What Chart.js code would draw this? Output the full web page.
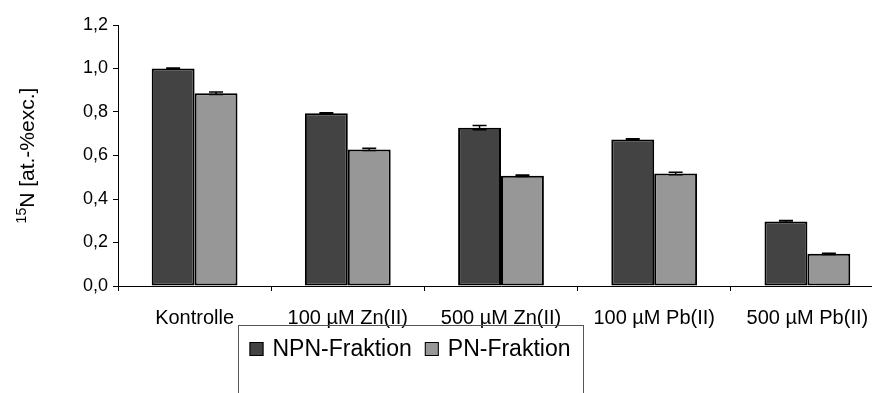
<!DOCTYPE html>
<html>
<head>
<meta charset="utf-8">
<script src="https://cdn.jsdelivr.net/npm/chart.js@4.4.0/dist/chart.umd.min.js"></script>
<style>
    html, body { margin: 0; padding: 0; background: #fff; overflow: hidden; }
    #wrap { width: 890px; height: 393px; }
</style>
</head>
<body>
<div id="wrap"><canvas id="barChart" width="890" height="393"></canvas></div>
<script>
const FONT = "'Liberation Sans', Arial, sans-serif";

// Data
const categories = ['Kontrolle', '100 µM Zn(II)', '500 µM Zn(II)', '100 µM Pb(II)', '500 µM Pb(II)'];
const npnValues = [1.0, 0.794, 0.728, 0.674, 0.297];
const npnErrors = [0.002, 0.003, 0.010, 0.003, 0.004];
const pnValues = [0.886, 0.628, 0.507, 0.517, 0.148];
const pnErrors = [0.006, 0.005, 0.003, 0.006, 0.003];
const yTicks = [0, 0.2, 0.4, 0.6, 0.8, 1.0, 1.2];

const ctx = document.getElementById('barChart');

/**
 * Error bars (value +/- error) with small caps
 */
const errorBars = {
    id: 'errorBars',
    afterDatasetsDraw(chart) {
        const { ctx, scales: { y } } = chart;
        const errs = [npnErrors, pnErrors];
        ctx.save();
        ctx.strokeStyle = '#000';
        ctx.lineWidth = 1.5;
        chart.data.datasets.forEach((ds, i) => {
            chart.getDatasetMeta(i).data.forEach((bar, j) => {
                const v = ds.data[j];
                const e = errs[i][j];
                const top = y.getPixelForValue(v + e);
                const bot = y.getPixelForValue(v - e);
                ctx.beginPath();
                ctx.moveTo(bar.x, top);
                ctx.lineTo(bar.x, bot);
                ctx.moveTo(bar.x - 7, top);
                ctx.lineTo(bar.x + 7, top);
                ctx.moveTo(bar.x - 7, bot);
                ctx.lineTo(bar.x + 7, bot);
                ctx.stroke();
            });
        });
        ctx.restore();
    }
};

/**
 * Rotated y-axis title with superscript mass number
 */
const yTitle = {
    id: 'yTitle',
    afterDraw(chart) {
        const { ctx, chartArea } = chart;
        const cy = (chartArea.top + chartArea.bottom) / 2;
        const sup = '15';
        const main = 'N [at.-%exc.]';
        ctx.save();
        ctx.translate(27, cy);
        ctx.rotate(-Math.PI / 2);
        ctx.fillStyle = '#000';
        ctx.textBaseline = 'alphabetic';
        ctx.font = `14px ${FONT}`;
        const supW = ctx.measureText(sup).width;
        ctx.font = `21px ${FONT}`;
        const mainW = ctx.measureText(main).width;
        let x = -(supW + mainW) / 2;
        ctx.font = `14px ${FONT}`;
        ctx.fillText(sup, x, -1);
        ctx.font = `21px ${FONT}`;
        ctx.fillText(main, x + supW, 7);
        ctx.restore();
    }
};

/**
 * Framed legend below the plot
 */
const boxLegend = {
    id: 'boxLegend',
    afterDraw(chart) {
        const { ctx } = chart;
        const size = 14, gap = 9, itemGap = 13, pad = 12;
        const centerX = 410, top = 325, textY = 349;
        ctx.save();
        ctx.font = `23px ${FONT}`;
        const items = chart.data.datasets.map(ds => ({
            label: ds.label,
            color: ds.backgroundColor,
            w: ctx.measureText(ds.label).width
        }));
        const total = items.reduce((acc, it) => acc + size + gap + it.w, 0) + itemGap * (items.length - 1);
        const left = centerX - total / 2 - pad;
        ctx.strokeStyle = '#555';
        ctx.lineWidth = 1;
        ctx.strokeRect(Math.round(left) + 0.5, top + 0.5, Math.round(total + pad * 2), 80);
        let x = left + pad;
        ctx.textBaseline = 'middle';
        items.forEach(it => {
            ctx.fillStyle = it.color;
            ctx.fillRect(x, textY - size / 2, size, size);
            ctx.strokeStyle = '#000';
            ctx.strokeRect(x + 0.5, textY - size / 2 + 0.5, size - 1, size - 1);
            x += size + gap;
            ctx.fillStyle = '#000';
            ctx.fillText(it.label, x, textY + 1);
            x += it.w + itemGap;
        });
        ctx.restore();
    }
};

new Chart(ctx, {
    type: 'bar',
    data: {
        labels: categories,
        datasets: [{
            label: 'NPN-Fraktion',
            data: npnValues,
            backgroundColor: '#434343',
            borderColor: '#000',
            borderWidth: 2,
            borderSkipped: false,
            barPercentage: 1,
            categoryPercentage: 0.56
        }, {
            label: 'PN-Fraktion',
            data: pnValues,
            backgroundColor: '#979797',
            borderColor: '#000',
            borderWidth: 2,
            borderSkipped: false,
            barPercentage: 1,
            categoryPercentage: 0.56
        }]
    },
    options: {
        responsive: false,
        animation: false,
        devicePixelRatio: 1,
        layout: { padding: { top: 25, right: 6, left: 0, bottom: 0 } },
        plugins: {
            legend: { display: false },
            tooltip: { enabled: false }
        },
        scales: {
            y: {
                min: 0,
                max: 1.2,
                afterFit(scale) { scale.width = 118; },
                afterBuildTicks(scale) { scale.ticks = yTicks.map(v => ({ value: v })); },
                border: { color: '#000', width: 1 },
                grid: { drawOnChartArea: false, tickLength: 5, tickColor: '#000' },
                ticks: {
                    color: '#000',
                    padding: 5,
                    font: { family: FONT, size: 18 },
                    callback: v => v.toFixed(1).replace('.', ',')
                }
            },
            x: {
                afterFit(scale) { scale.height = 107; },
                border: { color: '#000', width: 1 },
                grid: { drawOnChartArea: false, tickLength: 5, tickColor: '#000' },
                ticks: {
                    color: '#000',
                    padding: 15,
                    maxRotation: 0,
                    font: { family: FONT, size: 20 }
                }
            }
        }
    },
    plugins: [errorBars, yTitle, boxLegend]
});
</script>
</body>
</html>
